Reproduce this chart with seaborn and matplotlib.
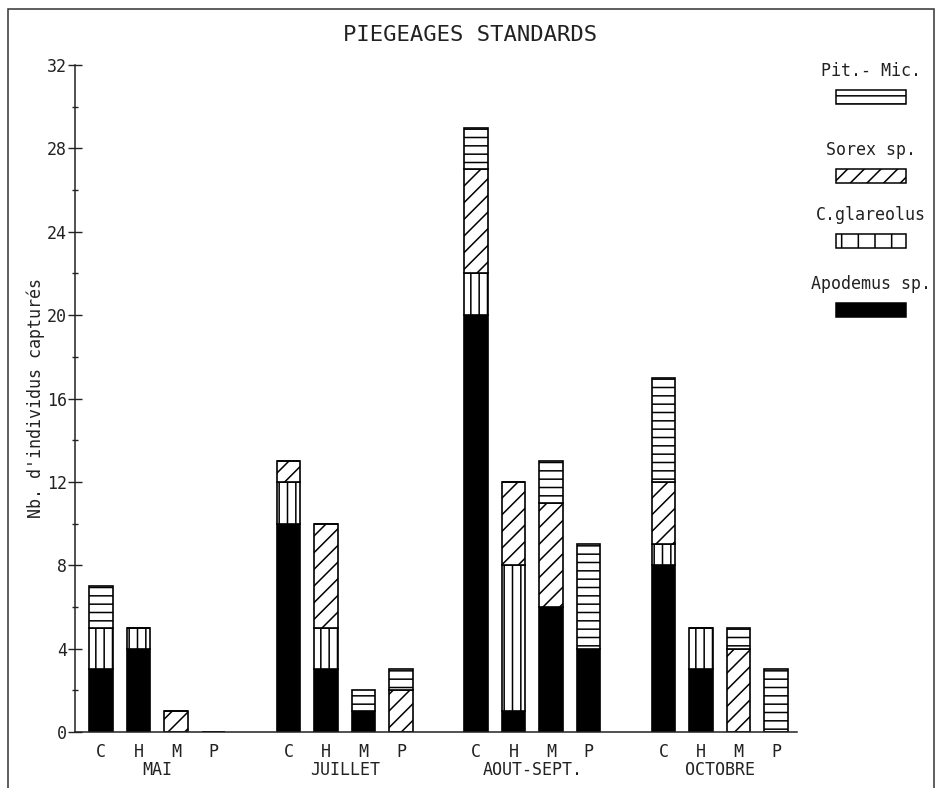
import numpy as np
import pandas as pd
import matplotlib
matplotlib.use("Agg")
import matplotlib.pyplot as plt
from matplotlib.patches import Patch, Rectangle
import seaborn as sns

# ---- data ----
months = ["MAI", "JUILLET", "AOUT-SEPT.", "OCTOBRE"]
sites = ["C", "H", "M", "P"]
apodemus = [3, 4, 0, 0, 10, 3, 1, 0, 20, 1, 6, 4, 8, 3, 0, 0]
glareolus = [2, 1, 0, 0, 2, 2, 0, 0, 2, 7, 0, 0, 1, 2, 0, 0]
sorex = [0, 0, 1, 0, 1, 5, 0, 2, 5, 4, 5, 0, 3, 0, 4, 0]
pitmic = [2, 0, 0, 0, 0, 0, 1, 1, 2, 0, 2, 5, 5, 0, 1, 3]
y_ticks = [0, 4, 8, 12, 16, 20, 24, 28, 32]

series = [
    ("Apodemus sp.", apodemus, "black", None),
    ("C.glareolus", glareolus, "white", "||"),
    ("Sorex sp.", sorex, "white", "//"),
    ("Pit.- Mic.", pitmic, "white", "--"),
]

pos = [g * 5 + i for g in range(len(months)) for i in range(len(sites))]
df = pd.DataFrame({"pos": pos, "site": sites * len(months)})
for name, vals, _, _ in series:
    df[name] = vals

sns.set_style("ticks")
plt.rcParams["font.family"] = ["DejaVu Sans Mono", "DejaVu Sans"]
plt.rcParams["hatch.linewidth"] = 1.1
txt = "#222222"

fig = plt.figure(figsize=(9.38, 7.88), dpi=100)
ax = fig.add_axes([75 / 938, 1 - 732 / 788, (797 - 75) / 938, (732 - 65) / 788])

bottom = np.zeros(len(df))
for name, vals, face, hatch in series:
    sns.barplot(data=df, x="pos", y=name, native_scale=True, width=0.62,
                color=face, saturation=1, edgecolor="black", linewidth=1.2,
                hatch=hatch, bottom=bottom.copy(), errorbar=None, ax=ax)
    bottom += np.array(vals)

ax.set_xlim(-0.69, 18.56)
ax.set_ylim(0, 32)
sns.despine(ax=ax)
for s in ["left", "bottom"]:
    ax.spines[s].set_color("#222222")
    ax.spines[s].set_linewidth(1.1)

ax.set_xticks(pos, sites * len(months))
ax.set_xticks([g * 5 + 1.5 for g in range(len(months))], months, minor=True)
ax.tick_params(axis="x", which="major", length=0, pad=8, labelsize=12, labelcolor=txt)
ax.tick_params(axis="x", which="minor", length=0, pad=21, labelsize=12, labelcolor=txt)

ax.set_yticks(y_ticks)
ax.set_yticks([t + 2 for t in y_ticks[:-1]], minor=True)
ax.tick_params(axis="y", which="major", direction="inout", length=10, width=1,
               pad=1, labelsize=12, labelcolor=txt, color="#222222")
ax.tick_params(axis="y", which="minor", direction="inout", length=4, width=1,
               color="#222222")
ax.set_xlabel("")
ax.set_ylabel("Nb. d'individus capturés", fontsize=12, color=txt, labelpad=1)

fig.text(470 / 938, 1 - 35 / 788, "PIEGEAGES STANDARDS", ha="center",
         va="center", fontsize=16, color=txt)

# legend: four small legends, label above swatch
leg_specs = [
    ("Pit.- Mic.", "white", "--", 62),
    ("Sorex sp.", "white", "//", 141),
    ("C.glareolus", "white", "|", 206),
    ("Apodemus sp.", "black", None, 275),
]
for label, face, hatch, ytop in leg_specs:
    leg = fig.legend(handles=[Patch(facecolor=face, edgecolor="black", hatch=hatch,
                                    linewidth=1.1)],
                     labels=[""], title=label, loc="upper center",
                     bbox_to_anchor=(871 / 938, 1 - ytop / 788),
                     bbox_transform=fig.transFigure, frameon=False,
                     handlelength=4.2, handleheight=0.9, handletextpad=0,
                     borderpad=0, borderaxespad=0, labelspacing=0.5,
                     fontsize=12, title_fontsize=12)
    leg.get_title().set_color(txt)

fig.add_artist(Rectangle((8 / 938, -0.05), (934 - 8) / 938, 1 - 9 / 788 + 0.05,
                         transform=fig.transFigure, fill=False, lw=1.1,
                         ec="#333333"))

fig.savefig("out.png", dpi=100)
